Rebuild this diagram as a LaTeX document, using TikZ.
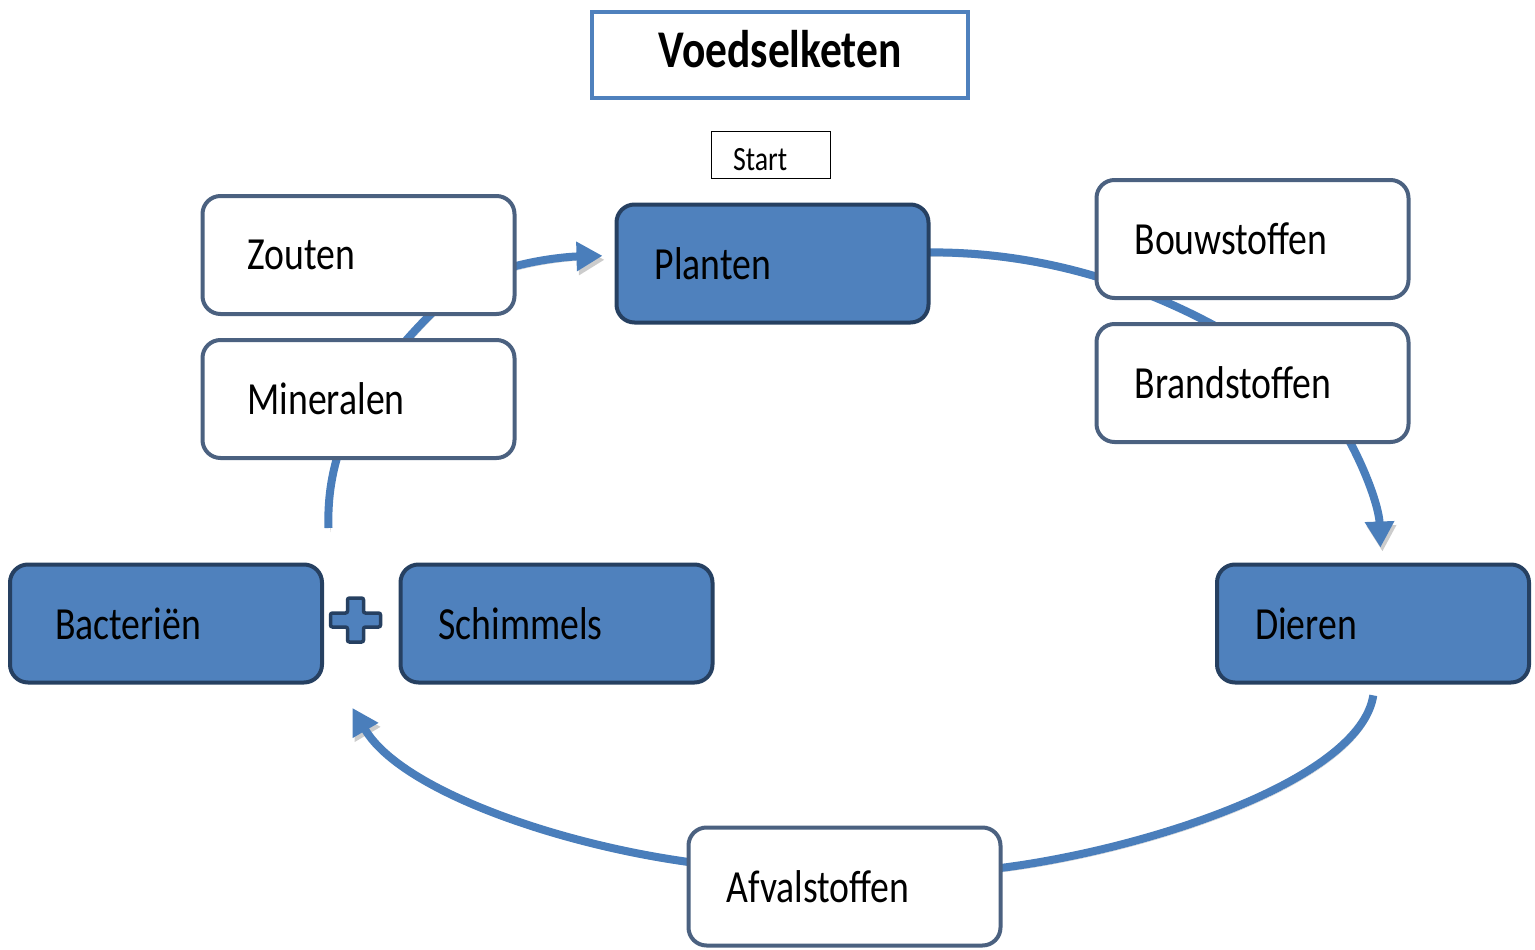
\documentclass[tikz,border=0pt]{standalone}
\usepackage{fontspec}
\setmainfont{Carlito}[FakeStretch=0.82]
\usetikzlibrary{calc, positioning, arrows.meta, backgrounds}
\definecolor{cycblue}{RGB}{74,126,187}
\definecolor{boxfill}{RGB}{79,129,189}
\definecolor{boxnavy}{RGB}{38,64,97}
\definecolor{boxgrey}{RGB}{75,97,128}

\begin{document}
\begin{tikzpicture}[x=1pt, y=-1pt,
  box/.style={rectangle, draw=boxgrey, line width=4pt, rounded corners=18pt,
    fill=white, minimum width=312pt, minimum height=118pt,
    text width=236pt, inner xsep=38pt, align=left,
    font=\fontsize{46}{50}\selectfont},
  darkbox/.style={box, draw=boxnavy, fill=boxfill},
  indent/.style={text width=222pt, inner xsep=45pt},
  flow/.style={line width=8pt, draw=cycblue,
    preaction={draw=black!20, transform canvas={shift={(2pt,-4pt)}}}},
  arrow/.style={flow, -{Triangle[length=26pt, width=28pt]}},
  plussign/.style={draw=boxnavy, fill=boxfill, line width=3.5pt, rounded corners=2pt}
]
\useasboundingbox (0,0) rectangle (1535,950);

\node[draw=boxfill, line width=4pt, minimum width=376pt, minimum height=86pt,
  text depth=12pt, font=\bfseries\fontsize{53}{56}\selectfont] (title) at (780,55) {Voedselketen};
\node[draw, line width=1pt, minimum width=119pt, minimum height=47pt, text width=76pt,
  text height=31pt, inner xsep=21pt, align=left, font=\fontsize{34}{38}\selectfont] (start) at (771,155) {Start};

\node[box, indent] (zouten) at (358.5,255) {Zouten};
\node[box, indent] (mineralen) at (358.5,399) {Mineralen};
\node[darkbox] (planten) at (772.5,263.5) {Planten};
\node[box] (bouw) at (1252.5,239) {Bouwstoffen};
\node[box] (brand) at (1252.5,383) {Brandstoffen};
\node[darkbox, indent] (bacterien) at (166,623.5) {Bacteriën};
\node[darkbox] (schimmels) at (556.5,623.5) {Schimmels};
\node[darkbox] (dieren) at (1373,623.5) {Dieren};
\node[box] (afval) at (844.5,886.5) {Afvalstoffen};
\coordinate (mix) at (355.5,620);

\draw[plussign, shift={(mix)}] (-25,-7) -- (-8,-7) -- (-8,-22) -- (8,-22) -- (8,-7) -- (25,-7)
  -- (25,7) -- (8,7) -- (8,22) -- (-8,22) -- (-8,7) -- (-25,7) -- cycle;

\begin{scope}[on background layer]
\draw[arrow, shorten >=12pt] ($(zouten.east)+(-8,13)$) .. controls +(35,-10) and +(-40,1) .. ($(planten.west)+(0,-8)$);
\draw[flow] ($(planten.east)+(-8,-11)$) .. controls +(108,-2) and +(-90,-50) .. ($(brand.north)+(-30,8)$);
\draw[arrow, shorten >=15pt] ($(brand.south)+(93,-10)$) .. controls +(20,35) and +(-2,-55) .. ($(dieren.north)+(8,0)$);
\draw[flow, shorten <=11pt] ($(dieren.south)+(2,0)$) .. controls +(-15,96) and +(148,-18) .. ($(afval.east)+(-6,-18)$);
\draw[arrow] ($(afval.west)+(6,-24)$) .. controls +(-135,-18) and +(48,82) .. ($(mix)+(-3,88)$);
\draw[flow] ($(mix)+(-27,-92)$) .. controls +(-3,-88) and +(-80,75) .. ($(zouten.south)+(92,-21)$);
\end{scope}
\end{tikzpicture}
\end{document}
